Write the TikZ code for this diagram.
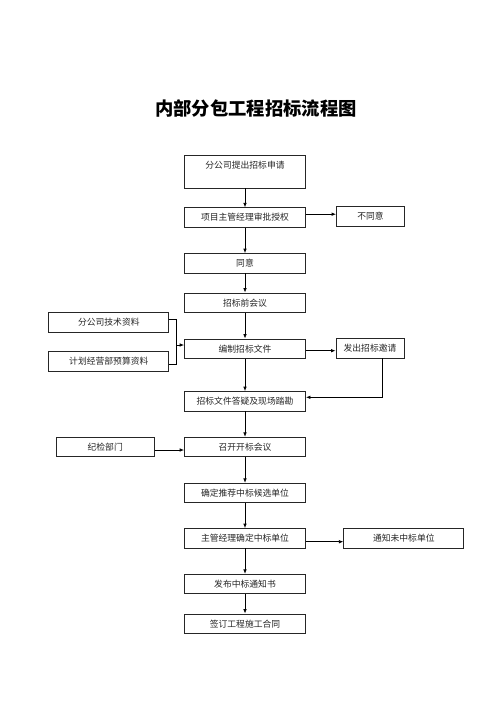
\documentclass[tikz,border=0pt]{standalone}
\usepackage{fontspec}
\newfontfamily\cjk{Noto Sans CJK SC}
\usetikzlibrary{arrows.meta,calc}
\begin{document}
\begin{tikzpicture}[x=1pt,y=-1pt,
  box/.style={draw=black!85, line width=0.8pt, minimum height=19.5pt, inner sep=2pt,
    font=\cjk\fontsize{8.8}{10}\selectfont, text=black!85},
  mainbox/.style={box, minimum width=121pt},
  arr/.style={line width=0.8pt, -{Latex[length=4.5pt,width=3.6pt]}},
  ln/.style={line width=0.8pt}]
\useasboundingbox[fill=white] (0,0) rectangle (500,707);
\node[font=\cjk\bfseries\fontsize{18.3}{20}\selectfont] (title) at (256,108) {内部分包工程招标流程图};
% main column
\node[mainbox, minimum height=33pt, text height=7pt, text depth=13pt] (a1) at (245,171.5) {分公司提出招标申请};
\node[mainbox] (a2) at (245,217.5) {项目主管经理审批授权};
\node[mainbox] (a3) at (245,263.3) {同意};
\node[mainbox] (a4) at (245,302.7) {招标前会议};
\node[mainbox] (a5) at (245,348.7) {编制招标文件};
\node[mainbox] (a6) at (245,401.3) {招标文件答疑及现场踏勘};
\node[mainbox] (a7) at (245,447) {召开开标会议};
\node[mainbox] (a8) at (245,493) {确定推荐中标候选单位};
\node[mainbox] (a9) at (245,538.3) {主管经理确定中标单位};
\node[mainbox] (a10) at (245,584) {发布中标通知书};
\node[mainbox] (a11) at (245,623.7) {签订工程施工合同};
% side boxes
\node[box, minimum width=68pt] (no) at (370.5,216.5) {不同意};
\node[box, minimum width=68pt] (inv) at (370,348.3) {发出招标邀请};
\node[box, minimum width=120pt] (t1) at (108.8,322.3) {分公司技术资料};
\node[box, minimum width=120pt] (t2) at (108.8,361.3) {计划经营部预算资料};
\node[box, minimum width=98pt] (jj) at (105.2,447) {纪检部门};
\node[box, minimum width=120pt] (nt) at (403.8,538.3) {通知未中标单位};
% vertical arrows
\foreach \u/\v in {a1/a2,a2/a3,a3/a4,a4/a5,a5/a6,a6/a7,a7/a8,a8/a9,a9/a10,a10/a11}
  \draw[arr] (\u) -- (\v);
% side arrows
\coordinate (p1) at ($(a2.east)+(0,-3.3)$);
\draw[arr] (p1) -- (p1 -| no.west);
\coordinate (p2) at ($(a5.east)+(0,2)$);
\draw[arr] (p2) -- (p2 -| inv.west);
\coordinate (p3) at ($(inv.south)+(12,0)$);
\coordinate (p4) at ($(a6.east)+(0,-4)$);
\draw[arr] (p3) |- (p4);
\coordinate (bt) at (176.7,319.3);
\coordinate (bb) at (176.7,364.7);
\coordinate (bm) at (176.7,345);
\draw[ln] (t1.east |- bt) -- (bt) -- (bb) -- (t2.east |- bb);
\draw[arr] (bm) -- (bm -| a5.west);
\coordinate (p5) at ($(jj.east)+(0,3)$);
\draw[arr] (p5) -- (p5 -| a7.west);
\coordinate (p6) at ($(a9.east)+(0,3.4)$);
\draw[arr] (p6) -- (p6 -| nt.west);
\end{tikzpicture}
\end{document}
